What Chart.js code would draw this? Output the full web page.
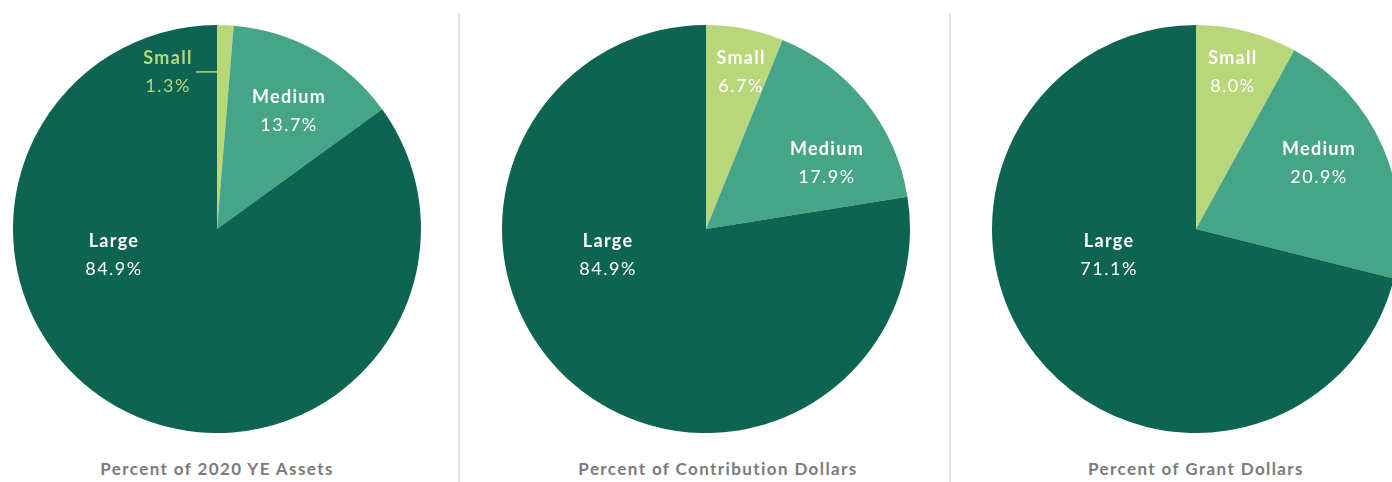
<!DOCTYPE html>
<html>
<head>
<meta charset="utf-8">
<title>Share by Foundation Size</title>
<script src="https://cdn.jsdelivr.net/npm/chart.js@4"></script>
<style>
  html, body { margin: 0; padding: 0; background: #ffffff; }
  #stage { position: relative; width: 1392px; height: 482px; overflow: hidden; font-family: Lato, "Open Sans", sans-serif; }
  .pie { position: absolute; top: 25px; }
  .title { position: absolute; top: 458px; font-weight: 700; font-size: 17px; letter-spacing: 1.4px; color: #7b7b7b; white-space: nowrap; transform: translateX(-50%); }
  .sep { position: absolute; top: 13px; bottom: 0; width: 2px; background: #e3e3e3; }
</style>
</head>
<body>
<div id="stage">
  <div class="sep" style="left:458px"></div>
  <div class="sep" style="left:949px"></div>
  <canvas id="pieAssets" class="pie" width="408" height="408" style="left:13px"></canvas>
  <canvas id="pieContrib" class="pie" width="408" height="408" style="left:502px"></canvas>
  <canvas id="pieGrant" class="pie" width="408" height="408" style="left:992px"></canvas>
  <div class="title" style="left:217px">Percent of 2020 YE Assets</div>
  <div class="title" style="left:718px">Percent of Contribution Dollars</div>
  <div class="title" style="left:1196px">Percent of Grant Dollars</div>
</div>
<script>
// Foundation size groups and their share of each measure (percent)
const categories = ['Small', 'Medium', 'Large'];
const assetsShare = [1.3, 13.7, 84.9];
const contributionShare = [6.7, 17.9, 84.9];
const grantShare = [8.0, 20.9, 71.1];

const sliceColors = ['#b8d77a', '#47a587', '#0d6450'];
const FONT = 'Lato, "Open Sans", sans-serif';

// Draws "Name / value%" inside each slice; anchors are fractions of the radius
// measured from the pie centre. An optional leader joins an outside label to its slice.
const sliceLabels = {
  id: 'sliceLabels',
  afterDatasetsDraw(chart, args, opts) {
    const ctx = chart.ctx;
    const meta = chart.getDatasetMeta(0);
    const values = chart.data.datasets[0].data;
    meta.data.forEach((arc, i) => {
      const r = arc.outerRadius;
      const a = opts.anchors[i];
      const x = arc.x + a[0] * r;
      const y = arc.y + a[1] * r;
      const color = (opts.colors && opts.colors[i]) || '#ffffff';
      ctx.save();
      ctx.fillStyle = color;
      ctx.textAlign = 'center';
      ctx.textBaseline = 'middle';
      ctx.letterSpacing = '1.3px';
      ctx.font = '700 18px ' + FONT;
      ctx.fillText(chart.data.labels[i], x, y - 14);
      ctx.letterSpacing = '1.5px';
      ctx.font = '400 18px ' + FONT;
      ctx.fillText(values[i].toFixed(1) + '%', x, y + 14);
      if (opts.leader && opts.leader[i]) {
        ctx.strokeStyle = color;
        ctx.lineWidth = 1.5;
        ctx.beginPath();
        ctx.moveTo(x + 28, y);
        ctx.lineTo(arc.x, y);
        ctx.stroke();
      }
      ctx.restore();
    });
  }
};

function makePie(id, values, labelOpts) {
  return new Chart(document.getElementById(id), {
    type: 'pie',
    data: {
      labels: categories,
      datasets: [{ data: values, backgroundColor: sliceColors, borderWidth: 0, hoverOffset: 0 }]
    },
    options: {
      responsive: false,
      animation: false,
      layout: { padding: 0 },
      events: [],
      plugins: {
        legend: { display: false },
        tooltip: { enabled: false },
        sliceLabels: labelOpts
      }
    },
    plugins: [sliceLabels]
  });
}

makePie('pieAssets', assetsShare, {
  anchors: [[-0.24, -0.77], [0.353, -0.578], [-0.505, 0.127]],
  colors: ['#b8d77a', '#ffffff', '#ffffff'],
  leader: [true, false, false]
});
makePie('pieContrib', contributionShare, {
  anchors: [[0.172, -0.77], [0.593, -0.324], [-0.48, 0.127]]
});
makePie('pieGrant', grantShare, {
  anchors: [[0.181, -0.77], [0.603, -0.324], [-0.426, 0.127]]
});
</script>
</body>
</html>
